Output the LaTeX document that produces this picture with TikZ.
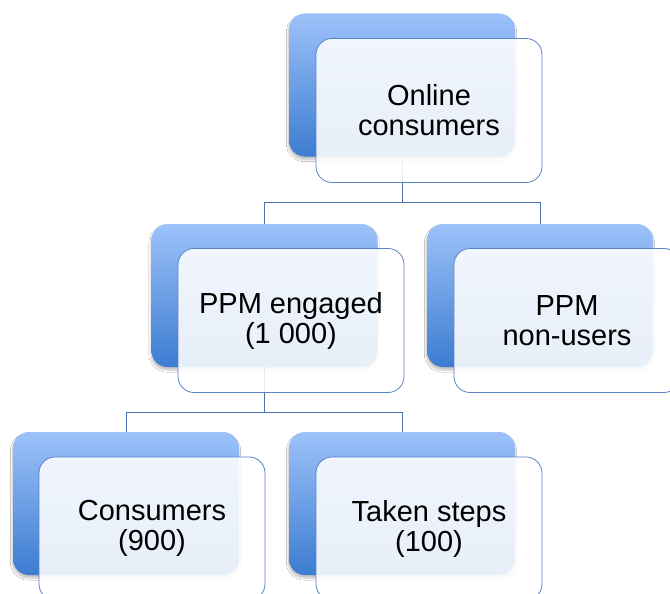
\documentclass[tikz,border=0pt]{standalone}
\usepackage{fontspec}
\setmainfont{Liberation Sans}
\usetikzlibrary{shadows.blur}
\definecolor{backtop}{RGB}{157,194,250}
\definecolor{backbot}{RGB}{60,124,208}
\definecolor{frontline}{RGB}{88,132,196}
\definecolor{connline}{RGB}{74,114,172}
\tikzset{
  backbox/.style={rectangle, rounded corners=16pt, minimum width=226pt, minimum height=143pt,
    top color=backtop, bottom color=backbot, draw=none,
    blur shadow={shadow xshift=-0.5pt, shadow yshift=-3pt, shadow blur steps=6, shadow opacity=25}},
  frontbox/.style={rectangle, rounded corners=16pt, minimum width=226pt, minimum height=144pt,
    draw=frontline, line width=0.8pt, fill=white, fill opacity=0.88, text opacity=1,
    align=center, font=\fontsize{29}{30}\selectfont, inner sep=0pt},
  conn/.style={draw=connline, line width=0.9pt}
}
\begin{document}
\begin{tikzpicture}[x=1pt,y=-1pt]
\clip (0,0) rectangle (670,594);
\fill[white] (0,0) rectangle (670,594);
% back boxes
\node[backbox] (b1) at (402,85) {};
\node[backbox] (b2) at (264.5,295.5) {};
\node[backbox] (b3) at (540,295.5) {};
\node[backbox] (b4) at (126,503.5) {};
\node[backbox] (b5) at (402,503.5) {};
% connectors
\coordinate (j1) at (402,202);
\coordinate (j2) at (264.5,412);
\draw[conn] (b1.south) -- (j1) -| (b2.north);
\draw[conn] (j1) -| (b3.north);
\draw[conn] (b2.south) -- (j2) -| (b4.north);
\draw[conn] (j2) -| (b5.north);
% front boxes
\node[frontbox] (f1) at (429,110.5) {Online\\consumers};
\node[frontbox] (f2) at (291,320.5) {PPM engaged\\(1~000)};
\node[frontbox] (f3) at (567,320.5) {PPM\\non-users};
\node[frontbox, minimum height=143pt] (f4) at (152,528.5) {Consumers\\(900)};
\node[frontbox, minimum height=143pt] (f5) at (429,528.5) {Taken steps\\(100)};
\end{tikzpicture}
\end{document}
